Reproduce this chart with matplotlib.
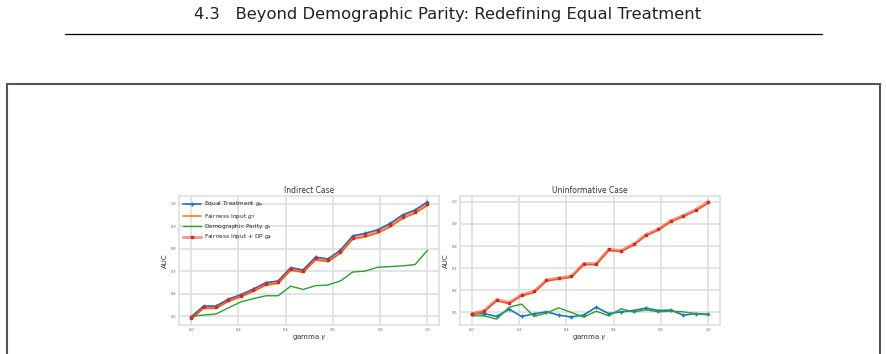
import matplotlib
matplotlib.use('Agg')
import matplotlib.pyplot as plt
from matplotlib.lines import Line2D
from matplotlib.patches import Rectangle
import numpy as np

# gamma grid (20 punktow)
gamma = np.linspace(0, 1, 20)

# Indirect case
ind_equal = [0.497, 0.545, 0.545, 0.576, 0.596, 0.621, 0.649, 0.657, 0.716, 0.706,
             0.763, 0.755, 0.794, 0.858, 0.869, 0.885, 0.913, 0.951, 0.973, 1.009]
ind_fair = [0.487, 0.535, 0.535, 0.566, 0.586, 0.610, 0.638, 0.646, 0.704, 0.695,
            0.750, 0.743, 0.780, 0.843, 0.853, 0.870, 0.897, 0.935, 0.958, 0.993]
ind_dp = [0.500, 0.505, 0.510, 0.537, 0.564, 0.578, 0.591, 0.591, 0.634, 0.619,
          0.636, 0.639, 0.657, 0.697, 0.701, 0.718, 0.721, 0.724, 0.730, 0.793]
ind_fair_dp = [0.492, 0.540, 0.540, 0.571, 0.591, 0.616, 0.644, 0.652, 0.711, 0.701,
               0.757, 0.749, 0.787, 0.850, 0.861, 0.878, 0.905, 0.943, 0.966, 1.000]

# Uninformative case
uni_equal = [0.494, 0.495, 0.482, 0.515, 0.482, 0.494, 0.503, 0.488, 0.480, 0.489,
             0.524, 0.495, 0.503, 0.509, 0.520, 0.509, 0.511, 0.488, 0.495, 0.492]
uni_fair = [0.489, 0.504, 0.553, 0.540, 0.575, 0.590, 0.642, 0.651, 0.659, 0.716,
            0.716, 0.780, 0.775, 0.804, 0.847, 0.872, 0.910, 0.933, 0.960, 0.994]
uni_dp = [0.485, 0.485, 0.470, 0.524, 0.538, 0.482, 0.498, 0.521, 0.500, 0.479,
          0.506, 0.485, 0.517, 0.502, 0.512, 0.503, 0.506, 0.503, 0.495, 0.489]
uni_fair_dp = [0.494, 0.509, 0.558, 0.545, 0.580, 0.595, 0.647, 0.656, 0.664, 0.721,
               0.721, 0.785, 0.780, 0.809, 0.852, 0.877, 0.915, 0.938, 0.965, 1.000]

labels = [r'Equal Treatment $g_\psi$', r'Fairness Input $g_Y$',
          r'Demographic Parity $g_s$', r'Fairness Input + DP $g_\phi$']
xticks = [0.0, 0.2, 0.4, 0.6, 0.8, 1.0]
yticks = [0.5, 0.6, 0.7, 0.8, 0.9, 1.0]

plt.style.use('seaborn-v0_8-whitegrid')
plt.rcParams['font.family'] = ['DejaVu Sans']

fig = plt.figure(figsize=(8.87, 3.54), dpi=100)

# naglowek strony
fig.text(0.505, 1 - 14 / 354, '4.3   Beyond Demographic Parity: Redefining Equal Treatment',
         ha='center', va='center', fontsize=11.8, color='#222222')
fig.add_artist(Line2D([65 / 887, 822 / 887], [1 - 34 / 354, 1 - 34 / 354],
                      color='black', linewidth=0.9, transform=fig.transFigure))
# ramka
fig.add_artist(Rectangle((7 / 887, -0.2), 873 / 887, 0.2 + 1 - 84 / 354,
                         fill=False, edgecolor='#555555', linewidth=1.5,
                         transform=fig.transFigure, clip_on=False))

red_line = (0.839, 0.153, 0.157, 0.45)


def draw_panel(ax, title, equal, fair, dp, fair_dp, legend=False):
    ax.plot(gamma, equal, color='tab:blue', marker='+', markersize=3,
            markeredgewidth=1, linewidth=1.2, label=labels[0])
    ax.plot(gamma, fair, color='tab:orange', linewidth=1.2, label=labels[1])
    ax.plot(gamma, dp, color='tab:green', linewidth=1.0, label=labels[2])
    ax.plot(gamma, fair_dp, color=red_line, linewidth=2.2, marker='s', markersize=1.6,
            markerfacecolor='tab:red', markeredgecolor='tab:red', label=labels[3])
    ax.set_title(title, fontsize=5.5, pad=2, color='#333333')
    ax.set_xlabel(r'gamma $\gamma$', fontsize=5, labelpad=1, color='#333333')
    ax.set_ylabel('AUC', fontsize=5, labelpad=2, color='#333333')
    ax.set_xticks(xticks)
    ax.set_yticks(yticks)
    ax.tick_params(labelsize=2.5, pad=2, length=0, labelcolor='#555555')
    ax.grid(True, color='#dcdcdc', linewidth=1.1)
    for s in ax.spines.values():
        s.set_color('#dcdcdc')
        s.set_linewidth(1.1)
    if legend:
        ax.legend(loc='upper left', fontsize=4.2, frameon=False, handlelength=3,
                  handletextpad=0.6, borderaxespad=0.3, labelspacing=0.25)


ax1 = fig.add_axes([179.3 / 887, 1 - 325 / 354, 260 / 887, 129 / 354])
draw_panel(ax1, 'Indirect Case', ind_equal, ind_fair, ind_dp, ind_fair_dp, legend=True)

ax2 = fig.add_axes([460 / 887, 1 - 325 / 354, 260 / 887, 129 / 354])
draw_panel(ax2, 'Uninformative Case', uni_equal, uni_fair, uni_dp, uni_fair_dp)

fig.savefig('out.png', dpi=100)
